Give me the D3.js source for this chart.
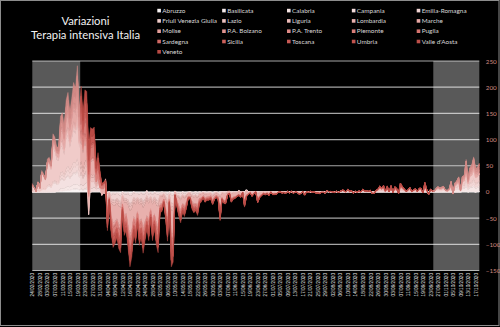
<!DOCTYPE html>
<html>
<head>
<meta charset="utf-8">
<script src="https://cdn.jsdelivr.net/npm/d3@7"></script>
<style>
  html, body { margin: 0; padding: 0; background: #000; }
  svg { display: block; }
</style>
</head>
<body>
<svg id="chart" width="500" height="327"></svg>
<script>
// Daily change in intensive-care occupancy per region, 24/02/2020 – 19/10/2020.
// Each array holds one value per day; lines group the days by period:
// 24/02–09/03, 10/03–03/04, 04/04–02/06, 03/06–30/06, 01/07–27/08, 28/08–19/10.

const regions = ["Abruzzo", "Basilicata", "Calabria", "Campania", "Emilia-Romagna",
  "Friuli Venezia Giulia", "Lazio", "Liguria", "Lombardia", "Marche",
  "Molise", "P.A. Bolzano", "P.A. Trento", "Piemonte", "Puglia",
  "Sardegna", "Sicilia", "Toscana", "Umbria", "Valle d'Aosta", "Veneto"];

const abruzzo = [
  0,0,0,0,0,0,0,0,0,0, 0,0,0,1,1,
  2,2,2,3,3,3,4,4,4,5, 3,4,3,4,5,2,0,1,2,1, 1,1,-1,0,0,
  -1,0,-2,-1,-2,-1,-2,-3,0,-1, -2,-1,-3,-2,0,-2,-1,-2,-1,-2, -1,1,-2,-1,-2,0,-1,-2,-1,0, -1,-1,-2,0,-2,-3,1,-1,-1,-2, 0,-1,-1,0,0,-1,-1,0,-1,0, -1,0,0,-1,0,0,-1,0,0,-1,
  0,0,0,0,0,0,0,0,0,0, 0,0,0,0,4,0,0,0,0,0, 0,0,0,0,0,0,0,0,
  0,0,0,0,0,0,0,0,0,0, 0,0,0,0,0,0,0,0,0,0, 0,0,0,0,0,0,0,0,0,1, 0,0,0,0,0,0,0,0,0,0, 0,0,0,0,0,0,0,0,0,0, 0,0,0,0,0,0,0,0,
  0,0,0,0,0,0,0,0,0,0, 0,0,0,0,0,0,0,0,0,0, 0,0,0,0,0,0,0,0,0,0, 0,0,0,0,0,0,0,0,0,0, 0,0,0,1,1,2,0,1,1,1, 0,1,1
];

const basilicata = [
  0,0,0,0,0,0,0,0,0,0, 0,0,0,0,0,
  0,0,0,0,0,0,0,1,1,0, 0,1,0,1,1,0,0,0,0,0, 0,0,0,0,0,
  0,0,-1,0,0,-1,0,0,0,-1, 0,0,-1,0,0,0,-1,0,0,0, -1,0,0,0,-1,0,0,0,-1,0, 0,0,-1,0,0,-1,0,0,0,0, 0,0,0,-1,0,0,0,0,0,0, 0,0,0,0,0,0,-1,0,0,0,
  0,0,0,0,0,0,0,0,0,0, 0,0,0,0,0,0,0,0,0,0, 0,0,0,0,0,0,0,0,
  0,0,0,0,0,0,0,0,0,0, 0,0,0,0,0,0,0,0,0,0, 0,0,0,0,0,0,0,0,0,0, 0,0,0,0,0,0,0,0,0,0, 0,0,0,0,0,0,0,0,0,0, 0,0,0,0,0,0,0,0,
  0,0,0,0,0,0,0,0,0,0, 0,0,0,0,0,0,0,0,0,0, 0,0,0,0,0,0,0,0,0,0, 0,0,0,0,0,0,0,0,0,0, 0,0,0,0,0,0,0,0,0,0, 0,0,0
];

const calabria = [
  0,0,0,0,0,0,0,0,0,0, 0,0,0,0,0,
  0,0,1,0,1,0,1,1,1,1, 1,1,1,1,2,1,0,0,0,1, 1,1,0,0,0,
  0,0,-1,0,-1,0,0,-1,0,0, -1,0,0,-1,0,0,-1,0,0,-1, 0,0,-1,0,0,-1,0,0,0,-1, 0,0,0,-1,0,0,0,-1,0,0, 0,-1,0,0,0,0,0,0,-1,0, 0,0,0,0,0,-1,0,0,0,0,
  0,0,0,0,0,0,0,0,0,0, 0,0,0,0,0,0,0,0,0,0, 0,0,0,0,0,0,0,0,
  0,0,0,0,0,0,0,0,0,0, 0,0,0,0,0,0,0,0,0,0, 0,0,0,0,0,0,0,0,0,0, 0,0,0,0,0,0,0,0,0,0, 0,0,0,0,0,0,0,0,0,0, 0,0,0,0,0,0,0,0,
  0,0,0,0,0,0,0,0,0,0, 0,0,0,0,0,0,0,0,0,0, 0,0,0,0,0,0,0,0,0,0, 0,0,0,0,0,0,0,0,0,0, 0,0,0,0,0,0,0,0,0,0, 0,0,0
];

const campania = [
  0,0,0,0,0,0,0,0,0,1, 0,1,1,1,1,
  4,5,4,6,7,6,7,8,8,9, 7,9,7,9,10,5,6,6,7,3, 5,3,1,2,2,
  -2,1,-3,-2,-3,-1,-3,-4,0,-2, -3,-2,-4,-3,-1,-2,-1,-3,-2,-3, -2,2,-2,-1,-3,-1,-3,-3,0,-1, 0,-1,-3,0,-4,-3,1,-1,-2,-2, -1,-2,-1,0,0,-1,-2,-1,-2,-1, 0,0,-1,0,-1,0,-1,0,0,-1,
  -1,0,0,0,0,0,0,0,0,0, 3,0,0,0,0,0,0,0,0,0, 0,0,0,0,0,0,0,0,
  0,0,0,0,0,0,0,0,0,0, 0,0,0,0,0,0,0,0,0,0, 0,0,0,0,0,0,0,0,0,1, 0,0,0,0,1,0,0,1,0,0, 1,0,1,0,0,0,1,0,1,0, 1,0,1,0,0,1,1,2,
  2,2,1,2,1,3,1,2,2,1, 3,3,2,1,1,2,1,1,2,1, 2,2,1,4,1,-1,2,1,1,2, 2,2,2,3,1,1,2,4,1,4, 4,5,1,5,5,9,4,7,7,9, 6,7,8
];

const emiliaRomagna = [
  1,1,0,2,1,4,5,4,9,10, 8,14,16,12,13,
  16,17,14,18,20,16,18,21,20,24, 16,20,14,18,20,-52,14,12,11,2, 8,4,-6,-3,-5,
  -8,-2,-7,-11,-10,-9,-11,-11,-5,-8, -6,-12,-14,-13,-9,-10,-6,-10,-9,-12, -10,-10,-9,-6,-9,-7,-10,-12,-4,-4, -2,-6,-9,-3,-15,-14,-1,-3,-4,-6, -4,-4,-3,-1,-2,-3,-4,-4,-4,-2, -2,-1,-2,-2,-2,-1,-3,-2,-1,-1,
  -5,-1,-2,-2,0,1,-2,-1,-1,-1, -1,-1,1,-3,-1,-1,0,-1,0,0, -2,-1,-1,0,-1,0,-1,0,
  -1,0,-1,0,0,0,0,0,0,-1, 0,0,0,0,0,-1,0,-1,0,0, 0,0,0,0,0,0,0,0,-1,0, 0,0,0,0,0,0,0,1,0,0, 1,0,0,0,0,0,0,0,1,0, 0,0,0,-1,0,0,0,1,
  1,1,0,0,-1,1,-1,0,0,-1, 1,0,0,0,0,0,0,0,0,0, 0,0,-1,0,0,0,0,0,0,0, 0,0,0,0,0,0,0,1,0,1, 1,2,0,2,2,4,2,3,3,4, 3,3,4
];

const friuli = [
  0,0,0,0,0,0,0,0,1,1, 0,1,1,1,0,
  2,2,1,2,2,2,2,3,3,3, 2,3,3,3,4,2,0,0,0,0, 0,0,-1,-1,-1,
  -1,0,-1,-2,-1,-1,-2,-1,0,-1, -1,-1,-2,-1,-1,-1,0,-1,-1,-2, -1,0,-1,0,-1,-1,-2,-1,0,0, 0,-1,-1,0,-2,-1,0,0,-1,-1, 0,-1,0,0,0,-1,0,-1,0,0, 0,0,-1,0,0,0,0,-1,0,0,
  0,0,0,0,0,0,0,0,0,0, 0,0,0,0,0,0,0,0,0,0, 0,0,0,0,0,0,0,0,
  0,0,0,0,0,0,0,0,0,0, 0,0,0,0,0,0,0,0,0,0, 0,0,0,0,0,0,0,0,0,0, 0,0,0,0,0,0,0,0,0,0, 0,0,0,0,0,0,0,0,0,0, 0,0,0,0,0,0,0,0,
  0,0,0,0,0,0,0,0,0,0, 0,0,0,0,0,0,0,0,0,0, 0,0,0,0,0,0,0,0,0,0, 0,0,0,0,0,0,0,0,0,0, 0,0,0,0,0,0,0,0,0,0, 0,0,0
];

const lazio = [
  0,0,0,0,0,0,0,0,1,1, 1,2,2,2,2,
  6,7,6,8,9,8,9,10,10,12, 9,12,9,12,13,6,8,8,8,4, 6,4,2,3,1,
  -3,0,-3,-4,-4,-3,-4,-4,-1,-3, -3,-4,-5,-5,-3,-4,-3,-4,-3,-4, -4,-3,-3,-2,-3,-3,-4,-4,-1,-1, -1,-2,-3,-1,-6,-5,0,-1,-1,-2, -1,-1,-1,0,0,-1,-1,-1,-1,-1, 0,0,0,0,0,0,-1,0,0,0,
  -2,0,-1,-1,1,0,-1,0,-1,0, 0,0,0,-1,0,0,0,0,0,1, -1,0,0,0,0,0,0,0,
  0,0,0,0,0,0,0,0,0,0, 0,0,0,0,0,0,1,0,0,0, 0,0,0,0,0,0,0,0,0,1, 0,1,0,0,0,0,1,1,1,0, 2,0,1,0,1,0,0,0,2,1, 0,1,1,0,0,1,2,3,
  2,3,1,3,1,2,1,2,2,-1, 4,2,2,1,1,2,1,1,1,-1, 2,1,-1,4,1,-2,1,0,1,2, 2,1,2,2,1,0,1,4,-2,3, 3,4,1,4,4,7,3,5,6,8, 5,5,6
];

const liguria = [
  0,0,0,1,0,1,1,1,1,1, 1,2,2,2,2,
  6,6,5,7,8,7,8,9,8,10, 7,9,7,9,9,4,6,5,5,2, 4,2,-1,0,-2,
  -4,-1,-4,-5,-5,-5,-5,-6,-2,-4, -3,-6,-7,-7,-5,-5,-3,-5,-5,-6, -5,-5,-4,-3,-5,-4,-5,-6,-2,-2, -1,-3,-5,-1,-7,-7,-1,-1,-2,-3, -2,-2,-2,-1,-1,-2,-2,-2,-2,-1, -1,-1,-1,-1,-1,-1,-1,-1,-1,-1,
  -2,-1,-1,-1,0,0,-1,-1,0,-1, 0,0,0,-1,0,0,0,0,0,0, -1,0,0,0,0,0,0,0,
  0,0,0,0,0,0,0,0,0,0, 0,0,0,0,0,0,0,0,0,0, 0,0,0,0,0,0,0,0,0,0, 0,0,0,0,0,0,0,0,0,0, 0,0,0,0,0,0,0,0,0,0, 0,0,0,0,0,0,0,0,
  0,0,0,0,0,0,0,0,0,0, 0,0,0,0,0,1,0,0,1,0, 0,1,0,1,1,0,0,0,0,0, 1,1,0,1,0,0,0,1,0,0, 1,1,0,1,1,3,1,2,2,3, 2,2,2
];

const lombardia = [
  12,7,1,15,6,30,24,17,40,38, 32,65,55,43,40,
  52,47,38,56,58,43,52,62,55,72, 40,43,30,41,15,20,22,29,27,9, 2,-6,18,9,30,
  -24,-8,-22,-34,-31,-29,-34,-35,-14,-27, -21,-37,-45,-40,-27,-31,-20,-32,-29,-37, -32,-30,-29,-18,-29,-24,-32,-37,-14,-13, -8,-17,-28,-8,-46,-44,-4,-8,-14,-18, -13,-14,-11,-5,-5,-9,-12,-12,-14,-7, -7,-5,-6,-5,-5,-4,-8,-5,-4,-5,
  -30,-9,-12,-12,-4,-3,-11,-8,-7,-5, -7,-6,-2,-16,-9,-3,-1,-5,-2,-1, -12,-7,-4,-2,-3,-2,-4,0,
  -3,-3,-3,-1,0,-1,-1,-2,1,-1, 1,-2,0,-1,-3,-2,0,-4,0,-1, 1,0,0,-1,-2,-2,-1,-1,-1,0, 0,0,0,-1,0,-1,0,0,1,0, 1,0,0,-2,0,0,0,0,0,1, 0,0,0,-2,-2,0,1,2,
  1,2,-1,2,-1,2,-2,2,1,-2, 3,2,1,-1,1,2,-1,1,1,1, 1,2,-1,3,1,-2,1,1,-1,1, 2,2,2,2,1,1,1,4,-2,4, 5,7,1,7,8,14,6,11,12,16, 11,11,13
];

const marche = [
  0,0,0,0,0,1,1,1,2,3, 3,5,6,5,5,
  7,8,7,9,9,7,8,9,8,10, 6,8,6,7,8,3,4,3,2,-2, 1,-1,-3,-2,-3,
  -4,-1,-3,-5,-4,-4,-5,-5,-2,-4, -3,-5,-6,-5,-4,-4,-3,-4,-4,-5, -4,-4,-4,-2,-4,-3,-4,-5,-2,-2, -1,-2,-4,-1,-6,-6,-1,-1,-2,-2, -2,-2,-1,-1,-1,-1,-2,-2,-2,-1, -1,-1,-1,-1,-1,-1,-1,-1,-1,-1,
  -1,0,-1,0,-1,0,0,0,0,0, 0,0,0,0,0,0,0,0,0,0, 0,0,0,0,0,0,0,0,
  0,0,0,0,0,0,0,0,0,0, 0,0,0,0,0,0,0,0,0,0, 0,0,0,0,0,0,0,0,0,0, 0,0,0,0,0,0,0,0,0,0, 0,0,0,0,0,0,0,0,0,0, 0,0,0,0,0,0,0,0,
  0,0,0,0,0,0,0,0,0,0, 0,0,0,0,0,0,0,0,0,0, 0,0,0,0,0,0,0,0,0,0, 0,0,0,0,0,0,0,0,0,0, 0,0,0,0,0,1,0,1,1,2, 1,0,1
];

const molise = [
  0,0,0,0,0,0,0,0,0,0, 0,0,0,0,0,
  0,0,0,0,0,0,0,0,0,0, 0,0,0,0,1,0,0,0,0,0, 1,1,0,0,0,
  0,0,0,-1,0,0,-1,0,0,0, 0,-1,0,0,0,-1,0,0,0,-1, 0,0,0,-1,0,0,0,0,-1,0, 0,0,-1,0,0,0,0,0,-1,0, 0,0,0,0,0,-1,0,0,0,0, 0,0,0,0,0,0,0,0,0,0,
  0,0,0,0,0,0,0,0,0,0, 0,0,0,0,0,0,0,0,0,0, 0,0,0,0,0,0,0,0,
  0,0,0,0,0,0,0,0,0,0, 0,0,0,0,0,0,0,0,0,0, 0,0,0,0,0,0,0,0,0,0, 0,0,0,0,0,0,0,0,0,0, 0,0,0,0,0,0,0,0,0,0, 0,0,0,0,0,0,0,0,
  0,0,0,0,0,0,0,0,0,0, 0,0,0,0,0,0,0,0,0,0, 0,0,0,0,0,0,0,0,0,0, 0,0,0,0,0,0,0,0,0,0, 0,0,0,0,0,0,0,0,0,0, 0,0,0
];

const bolzano = [
  0,0,0,0,0,0,0,0,0,0, 0,0,0,1,1,
  2,2,2,3,3,3,3,3,3,4, 3,4,3,3,4,2,0,1,1,0, 0,0,-1,-1,-1,
  -1,0,-2,-1,-2,-1,-1,-2,0,-1, -2,-1,-2,-1,-1,-1,-1,-1,-1,-2, -1,0,-1,-1,-1,0,-1,-2,0,0, 0,-1,-1,0,-2,-1,0,-1,0,-1, -1,0,-1,0,0,-1,0,0,-1,0, 0,0,0,-1,0,0,0,0,0,0,
  0,0,0,0,0,0,0,0,0,0, 0,0,0,0,0,0,0,0,0,0, 0,0,0,0,0,0,0,0,
  0,0,0,0,0,0,0,0,0,0, 0,0,0,0,0,0,0,0,0,0, 0,0,0,0,0,0,0,0,0,0, 0,0,0,0,0,0,0,0,0,0, 0,0,0,0,0,0,0,0,0,0, 0,0,0,0,0,0,0,0,
  0,0,0,0,0,0,0,0,0,0, 0,0,0,0,0,0,0,0,0,0, 0,0,0,0,0,0,0,0,0,0, 0,0,0,0,0,0,0,0,0,0, 0,0,0,0,0,0,0,0,0,0, 0,0,0
];

const trento = [
  0,0,0,0,0,0,0,0,0,0, 0,0,1,1,1,
  3,3,2,3,4,3,3,4,4,5, 3,5,4,5,5,3,1,1,1,-1, 0,-1,-2,-1,-2,
  -1,-1,-2,-2,-2,-1,-2,-2,0,-1, -2,-1,-3,-2,-1,-2,-1,-2,-1,-2, -1,0,-2,-1,-1,-1,-2,-2,0,-1, 0,-1,-2,0,-2,-2,0,-1,-1,-1, 0,-1,-1,0,0,-1,-1,0,-1,0, 0,0,-1,0,0,-1,0,0,0,0,
  0,0,0,0,0,0,0,0,0,0, 0,0,0,0,0,0,0,0,0,0, 0,0,0,0,0,0,0,0,
  0,0,0,0,0,0,0,0,0,0, 0,0,0,0,0,0,0,0,0,0, 0,0,0,0,0,0,0,0,0,0, 0,0,0,0,0,0,0,0,0,0, 0,0,0,0,0,0,0,0,0,0, 0,0,0,0,0,0,0,0,
  0,0,0,0,0,0,0,0,0,0, 0,0,0,0,0,0,0,0,0,0, 0,0,0,0,0,0,0,0,0,0, 0,0,0,0,0,0,0,0,0,0, 0,0,0,0,0,0,0,0,0,0, 0,0,0
];

const piemonte = [
  0,0,0,0,0,1,1,1,2,3, 3,6,7,5,6,
  14,18,15,20,22,18,21,24,23,28, 19,26,20,26,28,30,22,20,22,14, 18,15,5,7,2,
  -9,-3,-8,-12,-11,-11,-12,-13,-5,-10, -8,-13,-17,-15,-10,-11,-7,-12,-11,-13, -12,-11,-11,-6,-11,-9,-12,-14,-5,-5, -3,-6,-11,-3,-17,-16,-2,-3,-5,-7, -5,-5,-4,-2,-2,-3,-4,-5,-5,-3, -2,-2,-2,-2,-2,-1,-3,-2,-2,-2,
  -7,-2,-3,-3,-1,-1,-3,-2,-2,-1, -1,-2,0,-4,-2,-1,-1,-2,-1,0, -3,-2,-2,-1,-1,-1,-1,0,
  -1,-1,0,0,0,-1,0,-1,0,0, 0,-1,0,0,-1,0,0,-1,0,0, 0,0,0,-1,0,-1,0,0,0,0, 0,0,0,0,0,0,0,0,0,0, 0,0,0,-1,0,0,0,0,0,0, 0,0,0,0,-1,0,0,0,
  0,0,0,0,0,0,0,0,0,0, 0,0,0,0,0,0,0,0,0,0, 0,0,0,0,0,0,0,0,0,0, 0,0,0,0,0,0,1,1,0,1, 1,2,0,2,2,5,2,4,4,5, 4,4,4
];

const puglia = [
  0,0,0,0,0,0,0,0,0,0, 1,1,1,1,1,
  3,4,3,5,5,5,6,7,7,8, 6,8,6,8,10,6,5,5,6,3, 4,3,2,2,1,
  -2,1,-3,-3,-3,-2,-3,-4,-1,-2, -3,-2,-4,-3,-2,-3,-2,-3,-2,-3, -2,2,-3,-1,-3,-1,-3,-3,0,-1, -1,-1,-3,0,-4,-3,1,-1,-2,-2, -1,-2,-1,0,0,-1,-2,-1,-2,-1, -1,0,-1,0,-1,0,-1,-1,0,-1,
  -1,0,0,-1,0,0,0,0,0,0, 0,0,0,0,0,0,0,0,0,0, 0,0,0,0,0,0,0,0,
  0,0,0,0,0,0,0,0,0,0, 0,0,0,0,0,0,0,0,0,0, 0,0,0,0,0,0,0,0,0,0, 0,0,0,0,0,0,0,0,1,0, 0,0,0,0,0,0,0,0,0,0, 0,0,0,0,0,0,0,1,
  0,1,0,0,0,1,0,1,0,0, 1,1,0,0,0,1,0,0,0,0, 1,0,0,2,0,0,1,0,0,1, 1,0,1,1,0,0,0,2,0,1, 2,2,0,2,2,3,1,3,3,4, 3,3,3
];

const sardegna = [
  0,0,0,0,0,0,0,0,0,0, 0,0,0,0,0,
  1,1,1,1,1,1,1,2,2,2, 1,2,2,2,3,2,1,0,1,1, 1,1,0,1,0,
  0,0,-1,-1,-1,0,-1,-1,0,-1, -1,0,-1,-1,0,-1,0,-1,0,-1, 0,1,-1,0,-1,0,-1,-1,0,0, 0,0,-1,0,-1,-1,0,0,-1,0, 0,-1,0,0,0,0,-1,0,0,-1, 0,0,0,0,-1,0,0,0,0,0,
  0,0,0,0,0,0,0,0,0,0, 0,0,0,0,0,0,0,0,0,0, 0,0,0,0,0,0,0,0,
  0,0,0,0,0,0,0,0,0,0, 0,0,0,0,0,0,0,0,0,0, 0,0,0,0,0,0,0,0,0,0, 0,0,0,0,0,0,0,0,0,0, 0,1,0,0,0,0,1,0,1,0, 1,0,1,0,0,1,1,2,
  1,2,1,2,0,2,0,1,1,0, 2,1,0,0,0,1,0,0,1,0, 0,1,0,1,0,1,0,0,0,0, 0,1,0,0,0,0,0,0,-1,0, 0,1,-1,0,0,1,0,1,1,1, 1,0,1
];

const sicilia = [
  0,0,0,0,0,0,0,0,0,0, 0,1,1,1,1,
  2,2,2,3,4,3,4,4,4,5, 4,5,4,5,6,4,3,3,3,2, 3,2,1,1,1,
  -1,1,-2,-2,-2,-1,-2,-2,0,-2, -2,-1,-3,-2,-1,-2,-1,-2,-1,-2, -1,1,-2,-1,-2,-1,-2,-2,0,0, 0,-1,-2,0,-3,-2,1,-1,-1,-1, -1,-1,0,0,0,-1,-1,-1,-1,0, 0,0,-1,0,0,-1,0,0,0,-1,
  0,0,0,0,0,0,0,0,0,0, 0,0,0,0,0,0,0,0,0,0, 0,0,0,0,0,0,0,0,
  0,0,0,0,0,0,0,0,0,0, 0,0,0,0,0,0,0,0,0,0, 0,0,0,0,0,0,0,0,0,0, 0,0,0,0,0,0,0,0,0,0, 0,0,0,0,0,0,0,0,0,0, 0,0,0,0,0,0,0,0,
  1,1,0,1,0,1,0,1,1,0, 2,1,1,0,1,0,0,1,0,0, 1,0,0,2,1,-1,0,0,0,1, 1,0,1,1,0,1,0,2,0,2, 2,2,1,2,2,4,2,3,3,4, 3,3,4
];

const toscana = [
  0,0,0,0,0,0,0,0,1,1, 1,3,3,3,3,
  10,12,11,14,16,13,15,17,17,20, 14,19,15,19,21,20,14,12,13,6, 9,6,1,2,-2,
  -6,-2,-6,-9,-8,-8,-9,-10,-4,-7, -6,-9,-12,-10,-7,-8,-5,-9,-8,-9, -8,-8,-8,-4,-8,-6,-9,-10,-4,-4, -2,-4,-7,-2,-12,-12,-1,-2,-4,-5, -4,-4,-3,-1,-1,-2,-3,-3,-4,-2, -2,-1,-2,-2,-1,-1,-2,-1,-1,-1,
  -3,-1,-1,-1,-1,0,-1,-1,-1,0, -1,-1,0,-2,-1,0,0,0,-1,0, -1,-1,0,-1,0,0,-1,0,
  0,-1,0,0,0,0,0,0,0,0, 0,0,0,0,0,0,0,0,0,0, 0,0,0,0,0,0,0,0,0,0, 0,0,0,0,0,0,0,0,0,0, 0,0,0,0,0,0,0,0,0,0, 0,0,0,0,0,0,0,0,
  0,0,0,1,0,0,0,1,0,0, 1,0,1,0,0,0,0,0,0,0, 0,0,0,1,0,0,0,0,0,0, 1,0,1,0,0,0,1,1,0,1, 1,2,0,3,3,6,2,4,5,6, 4,4,5
];

const umbria = [
  0,0,0,0,0,0,0,0,0,0, 0,0,0,0,1,
  1,1,1,2,2,2,2,2,2,3, 2,3,2,2,3,2,1,1,1,0, 1,0,0,0,-1,
  -1,0,-1,-1,-1,-1,-1,-2,0,-1, -1,-1,-1,-1,0,-1,-1,-1,-1,-1, -1,1,-1,0,-1,0,-1,-1,0,0, 0,0,-1,0,-1,-1,0,0,-1,0, 0,-1,0,0,0,0,-1,0,0,-1, 0,0,0,0,0,-1,0,0,0,0,
  0,0,0,0,0,0,0,0,0,0, 0,0,0,0,0,0,0,0,0,0, 0,0,0,0,0,0,0,0,
  0,0,0,0,0,0,0,0,0,0, 0,0,0,0,0,0,0,0,0,0, 0,0,0,0,0,0,0,0,0,0, 0,0,0,0,0,0,0,0,0,0, 0,0,0,0,0,0,0,0,0,0, 0,0,0,0,0,0,0,0,
  0,0,0,0,0,0,0,0,0,0, 0,0,0,0,0,0,0,0,0,0, 0,0,0,0,0,0,0,0,0,0, 0,0,0,0,0,0,0,0,0,0, 0,0,0,0,0,0,1,0,1,1, 0,1,0
];

const valleDAosta = [
  0,0,0,0,0,0,0,0,0,0, 0,0,0,0,1,
  1,1,0,1,1,1,1,1,1,1, 1,1,1,1,2,1,0,0,0,0, 0,0,-1,-1,-1,
  0,0,-1,-1,0,-1,-1,-1,0,0, -1,0,-1,-1,0,-1,0,-1,0,-1, 0,0,-1,0,0,0,-1,-1,0,0, 0,0,-1,0,-1,0,0,0,0,-1, 0,0,0,0,0,-1,0,0,0,0, 0,0,0,0,0,0,0,0,0,0,
  0,0,0,0,0,0,0,0,0,0, 0,0,0,0,0,0,0,0,0,0, 0,0,0,0,0,0,0,0,
  0,0,0,0,0,0,0,0,0,0, 0,0,0,0,0,0,0,0,0,0, 0,0,0,0,0,0,0,0,0,0, 0,0,0,0,0,0,0,0,0,0, 0,0,0,0,0,0,0,0,0,0, 0,0,0,0,0,0,0,0,
  0,0,0,0,0,0,0,0,0,0, 0,0,0,0,0,0,0,0,0,0, 0,0,0,0,0,0,0,0,0,0, 0,0,0,0,0,0,0,0,0,0, 0,0,0,0,0,0,0,0,0,0, 0,0,0
];

const veneto = [
  3,1,0,2,1,4,3,2,6,7, 6,10,9,7,7,
  12,13,10,14,15,13,14,17,16,19, 13,19,15,19,22,32,16,13,14,5, 10,7,-2,0,-4,
  -6,-2,-6,-9,-8,-8,-9,-9,-4,-7, -5,-10,-12,-11,-7,-8,-5,-9,-8,-10, -8,-8,-8,-5,-8,-6,-8,-10,-4,-3, -2,-5,-8,-2,-12,-12,-1,-2,-4,-5, -3,-4,-3,-1,-1,-3,-3,-3,-4,-2, -2,-1,-1,-1,-1,-1,-2,-1,-1,-1,
  -3,-1,-1,-2,0,-1,-1,-1,-1,-1, 0,-1,-1,-2,-1,0,0,-1,0,0, -1,-1,-1,0,-1,0,0,0,
  0,0,-1,0,0,0,0,0,0,0, 0,0,0,0,0,0,0,0,0,0, 0,0,0,0,0,0,0,0,0,0, 0,0,0,0,0,0,0,1,0,0, 1,0,0,0,0,0,0,0,0,1, 0,0,0,0,0,0,0,1,
  0,1,0,1,0,0,0,0,1,0, 0,1,0,0,0,0,0,0,0,0, 0,0,0,1,0,0,0,0,0,0, 0,0,0,1,0,0,0,0,0,1, 1,1,0,1,2,3,1,2,3,3, 2,3,3
];

const seriesValues = [abruzzo, basilicata, calabria, campania, emiliaRomagna,
  friuli, lazio, liguria, lombardia, marche,
  molise, bolzano, trento, piemonte, puglia,
  sardegna, sicilia, toscana, umbria, valleDAosta, veneto];

// Category axis: one entry per day from the first day on.
const firstDay = "24/02/2020";
const tickEvery = 4;
const yTicks = [-150, -100, -50, 0, 50, 100, 150, 200, 250];
// Periods shaded across the plot.
const highlightPeriods = [["24/02/2020", "20/03/2020"], ["25/09/2020", "19/10/2020"]];

const parseDay = d3.utcParse("%d/%m/%Y");
const fmtDay = d3.utcFormat("%d/%m/%Y");
const nDays = d3.max(seriesValues, s => s.length);
const dates = d3.range(nDays).map(i => d3.utcDay.offset(parseDay(firstDay), i));
const tickDates = dates.filter((d, i) => i % tickEvery === 0);

const W = 500, H = 327;
const plot = { left: 32.3, right: 479.3, top: 61, bottom: 270.5 };

const svg = d3.select("#chart");
svg.append("rect").attr("width", W).attr("height", H).attr("fill", "#000");
svg.append("rect").attr("x", 0.5).attr("y", 0.5).attr("width", W - 1.5).attr("height", H - 2)
  .attr("fill", "none").attr("stroke", "#8c8c8c").attr("stroke-width", 1);

const x = d3.scaleUtc().domain([dates[0], dates[dates.length - 1]]).range([plot.left, plot.right]);
const y = d3.scaleLinear().domain([-150, 250]).range([plot.bottom, plot.top]);

const palette = d3.quantize(d3.interpolateRgbBasis(
  ["#f6f1f1", "#efd3d2", "#e9b0ad", "#de8a86", "#cc5c56", "#b84a44"]), regions.length);
const color = d3.scaleOrdinal().domain(regions).range(palette);

// Horizontal gridlines
svg.append("g").selectAll("line").data(yTicks).join("line")
  .attr("x1", plot.left).attr("x2", plot.right)
  .attr("y1", d => y(d)).attr("y2", d => y(d))
  .attr("stroke", "#a6a6a6").attr("stroke-width", 1.2);

// Stacked areas (running sum across regions, negatives included)
const table = dates.map((d, i) => {
  const row = { date: d };
  regions.forEach((r, j) => { row[r] = seriesValues[j][i] ?? 0; });
  return row;
});
const stacked = d3.stack().keys(regions)
  .order(d3.stackOrderNone).offset(d3.stackOffsetNone)(table);
const area = d3.area()
  .x(d => x(d.data.date))
  .y0(d => y(d[0]))
  .y1(d => y(d[1]));
svg.append("g").selectAll("path").data(stacked).join("path")
  .attr("d", area)
  .attr("fill", d => color(d.key))
  .attr("stroke", d => color(d.key))
  .attr("stroke-width", 0.45)
  .attr("stroke-linejoin", "round");

// Shaded periods drawn as a translucent veil over the plot
const halfDay = 864e5 / 2;
const bandX0 = d => Math.max(plot.left, x(new Date(+parseDay(d[0]) - halfDay)));
const bandX1 = d => Math.min(plot.right, x(new Date(+parseDay(d[1]) + halfDay)));
svg.append("g").selectAll("rect").data(highlightPeriods).join("rect")
  .attr("x", bandX0)
  .attr("width", d => bandX1(d) - bandX0(d))
  .attr("y", y(250)).attr("height", y(-150) - y(250))
  .attr("fill", "#fff").attr("fill-opacity", 0.35);

// Right value axis
const yAxis = svg.append("g").attr("transform", `translate(${plot.right},0)`)
  .call(d3.axisRight(y).tickValues(yTicks).tickSize(0).tickPadding(6.5));
yAxis.select(".domain").remove();
yAxis.selectAll("text")
  .attr("fill", "#d48b80").attr("font-family", "Lato, 'Open Sans', sans-serif")
  .attr("font-size", 6.3);

// Date axis with vertical labels
const xAxis = svg.append("g").attr("transform", `translate(0,${plot.bottom})`)
  .call(d3.axisBottom(x).tickValues(tickDates).tickFormat(fmtDay).tickSize(0));
xAxis.select(".domain").remove();
xAxis.selectAll("text")
  .attr("transform", "rotate(-90)")
  .attr("text-anchor", "end")
  .attr("x", -2.5).attr("y", 0).attr("dy", "0.35em")
  .attr("fill", "#e0e0e0").attr("font-family", "'Liberation Sans', Arial, sans-serif")
  .attr("font-size", 4.7);

// Title
const title = svg.append("text")
  .attr("text-anchor", "middle").attr("fill", "#f2f2f2")
  .attr("font-family", "Lato, 'Open Sans', sans-serif").attr("font-size", 11.3);
title.append("tspan").attr("x", 85.5).attr("y", 25).text("Variazioni");
title.append("tspan").attr("x", 85.5).attr("y", 38.5).text("Terapia intensiva Italia");

// Legend: five columns, row by row
const legend = svg.append("g").selectAll("g").data(regions).join("g")
  .attr("transform", (d, i) => `translate(${157.3 + (i % 5) * 64.85},${10.6 + Math.floor(i / 5) * 10.3})`);
legend.append("rect").attr("x", 0).attr("y", -1.8).attr("width", 3.6).attr("height", 3.6)
  .attr("fill", d => color(d));
legend.append("text").attr("x", 5).attr("y", 0).attr("dy", "0.35em")
  .attr("fill", "#d9d9d9").attr("font-family", "Lato, 'Open Sans', sans-serif")
  .attr("font-size", 6.4).text(d => d);
</script>
</body>
</html>
